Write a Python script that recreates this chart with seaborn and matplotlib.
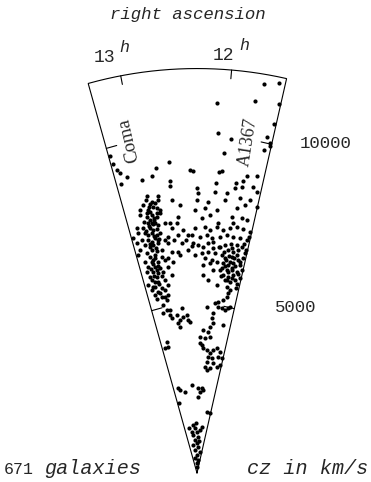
import numpy as np
import pandas as pd
import matplotlib
matplotlib.use("Agg")
import matplotlib.pyplot as plt
import seaborn as sns

far_ra = [11.692, 11.559, 12.115, 11.749, 11.517, 11.523, 12.087, 11.941, 11.565, 11.521,
          11.568, 11.510, 12.005, 13.280, 13.270, 13.248, 12.638, 12.796, 12.395, 12.359,
          12.046, 12.010, 11.705, 11.587, 13.223, 13.154, 12.985, 12.857, 12.647, 13.244,
          12.653, 12.073, 11.825, 11.744]
far_cz = [11710, 11830, 10990, 11170, 11220, 10610, 10110, 9960, 10190, 10030,
          9790, 9950, 9530, 9740, 9490, 9300, 9260, 9130, 8990, 8960,
          8960, 8990, 8940, 8990, 9190, 9030, 8850, 8910, 8700, 8870,
          8550, 8620, 8680, 8770]

coma_ra = [12.963, 12.823, 12.986, 12.823, 12.640, 13.029, 12.939, 12.902, 12.860, 12.819,
           12.976, 13.086, 13.100, 13.006, 12.942, 12.877, 12.825, 12.978, 12.918, 13.010,
           12.963, 12.916, 12.873, 12.774, 12.704, 13.188, 13.095, 13.000, 12.906, 12.687,
           13.183, 13.085, 12.989, 12.920, 12.866, 12.750, 13.273, 13.157, 13.059, 12.909,
           12.807, 13.243, 13.125, 12.999, 12.917, 12.762, 13.219, 13.039, 12.965, 12.726,
           13.265, 13.088, 13.002, 12.898, 12.794, 13.187, 13.078, 12.969, 12.852, 12.719,
           13.153, 13.040, 12.961, 12.813, 13.200, 13.087, 13.006, 12.913, 13.164, 13.048,
           12.955, 12.773, 13.148, 13.036, 12.908, 13.231, 13.116, 12.997, 12.861, 13.192,
           13.075, 12.940, 13.152, 13.028, 12.891, 12.908, 12.958, 12.918, 13.008, 12.962,
           12.953, 13.010, 13.056, 13.012, 13.064, 13.017, 13.097, 13.131, 13.048, 12.872,
           13.011, 12.946, 13.065, 12.963, 13.046, 12.965, 13.122, 13.051, 12.987, 13.116,
           13.091, 13.032, 13.154, 13.047, 12.960, 12.865, 13.067, 12.896, 12.877]
coma_cz = [8350, 8300, 8240, 8180, 8130, 8110, 8100, 8010, 7940, 7880,
           7940, 7990, 7840, 7850, 7770, 7700, 7780, 7640, 7610, 7550,
           7530, 7510, 7450, 7470, 7450, 7480, 7440, 7390, 7330, 7300,
           7330, 7300, 7240, 7160, 7210, 7060, 7220, 7110, 7060, 7010,
           6980, 7050, 6940, 6890, 6910, 6870, 6830, 6750, 6680, 6610,
           6700, 6570, 6590, 6500, 6430, 6460, 6410, 6370, 6390, 6310,
           6290, 6250, 6170, 6180, 6160, 6110, 6040, 6060, 5990, 5930,
           5940, 5920, 5880, 5790, 5800, 5770, 5670, 5580, 5640, 5600,
           5500, 5510, 5430, 5340, 5350, 8150, 7870, 7670, 7470, 7330,
           7080, 6980, 6850, 6500, 6340, 6140, 5800, 5300, 7210, 8110,
           7740, 7500, 7340, 7150, 6940, 6790, 6700, 6450, 6250, 6210,
           5980, 5720, 5670, 5450, 8020, 7800, 7610, 7030, 6700]

bridge_ra = [12.315, 12.294, 12.079, 11.927, 11.829, 11.749, 11.606, 11.552, 12.315, 12.160,
             11.940, 11.747, 11.615, 12.541, 12.339, 12.201, 12.039, 11.770, 11.668, 11.510,
             12.576, 12.244, 12.128, 11.822, 11.680, 11.607, 12.606, 12.001, 11.787, 12.597,
             12.444, 12.553, 12.618, 12.453, 12.594, 12.482, 12.391, 12.520, 12.670]
bridge_cz = [8450, 8300, 8360, 8350, 8520, 8600, 8660, 8530, 8100, 8060,
             8140, 8250, 8250, 7970, 7800, 7860, 7830, 7940, 8080, 8100,
             7620, 7560, 7660, 7670, 7670, 7650, 7430, 7440, 7490, 7080,
             7070, 6830, 6590, 6620, 6490, 6920, 6740, 7220, 6950]

a1367_ra = [12.341, 12.193, 12.117, 12.020, 11.920, 11.824, 11.731, 11.630, 11.526, 12.392,
            12.265, 12.163, 12.084, 11.958, 11.860, 11.758, 11.653, 11.548, 11.524, 12.370,
            12.290, 12.210, 12.132, 12.048, 11.943, 11.867, 11.755, 11.685, 11.603, 11.526,
            12.344, 12.233, 12.126, 12.014, 11.901, 11.840, 11.733, 11.657, 11.540, 11.530,
            12.176, 12.060, 12.201, 12.086, 11.973, 11.858, 11.769, 11.689, 11.571, 11.783,
            11.701, 11.604, 11.519, 12.019, 11.901, 12.196, 11.832, 11.737, 11.653, 11.522,
            11.788, 11.691, 11.605, 12.099, 11.932, 11.737, 11.663, 11.685, 11.705, 11.763,
            11.927, 11.809, 11.725, 11.621, 11.748, 11.652, 11.755, 11.666, 11.573, 11.819,
            11.870, 11.776, 11.651, 11.869, 11.692, 11.779, 11.581, 11.691, 11.823, 11.554,
            11.751, 11.958, 12.059, 11.576, 11.871, 11.557]
a1367_cz = [7280, 7310, 7220, 7330, 7250, 7330, 7400, 7370, 7330, 7060,
            7010, 7070, 6980, 7040, 7120, 7090, 7080, 7070, 7170, 6820,
            6760, 6720, 6820, 6680, 6750, 6820, 6750, 6870, 6850, 6780,
            6470, 6520, 6570, 6540, 6510, 6420, 6500, 6580, 6520, 6670,
            6370, 6340, 6170, 6230, 6300, 6270, 6240, 6320, 6300, 6090,
            6160, 6090, 6170, 6040, 6060, 5870, 5930, 5900, 5970, 5920,
            5790, 5760, 5840, 5740, 5610, 5600, 5520, 5410, 5310, 5190,
            5060, 6680, 6640, 6440, 6340, 6250, 6040, 5880, 6030, 6380,
            6130, 6870, 6730, 6610, 6470, 6510, 6390, 6110, 6200, 5730,
            5800, 6740, 6870, 6940, 5890, 5610]

near_ra = [12.963, 12.941, 11.862, 13.030, 12.978, 12.907, 12.648, 12.099, 11.848, 11.770,
           11.693, 11.629, 11.600, 13.066, 12.926, 12.900, 12.775, 12.715, 12.630, 12.548,
           12.518, 12.479, 12.762, 12.733, 11.942, 11.966, 11.917, 11.988, 11.672, 12.151,
           12.020, 12.231, 11.965, 12.095, 12.227, 12.178, 12.128, 13.134, 13.218, 13.128,
           12.024, 11.918, 11.833, 11.742, 11.631, 11.958, 11.848, 11.653, 11.541, 11.994,
           11.775, 11.549, 12.038, 11.862, 11.646, 11.969]
near_cz = [5320, 5210, 5120, 5090, 4920, 4900, 4910, 4940, 4970, 4940,
           4910, 4980, 5030, 4840, 4760, 4650, 4730, 4570, 4660, 4700,
           4550, 4490, 4480, 4370, 4760, 4610, 4470, 4360, 4460, 4250,
           4210, 4040, 4060, 4000, 3850, 3800, 3700, 4000, 3840, 3820,
           3660, 3570, 3680, 3750, 3660, 3470, 3430, 3510, 3480, 3310,
           3290, 3280, 3160, 3130, 3210, 3070]

local_ra = [13.100, 13.044, 12.843, 12.530, 12.255, 12.109, 12.035, 12.177, 12.249, 13.252,
            11.741, 11.533, 12.591, 12.474, 12.777, 12.337, 12.058, 12.665, 12.181, 12.531,
            12.347, 12.791, 12.132, 12.627, 11.803, 12.372, 12.805, 11.948, 12.424, 12.137,
            12.950, 11.918, 12.384, 12.084]
local_cz = [2570, 2520, 2440, 2620, 2510, 2520, 2470, 2410, 2260, 2140,
            1840, 1810, 1430, 1330, 1240, 1230, 1280, 1130, 1080, 980,
            880, 840, 780, 690, 640, 530, 440, 390, 290, 190,
            1360, 1370, 1480, 950]

# survey wedge
RA_LEFT, RA_RIGHT = 13.3, 11.5
CZ_MAX = 12000
RA_TICKS = ['13', '12']
CZ_TICKS = [5000, 10000]

RA_MID = 12.311      # RA that points straight up
DEG_PER_H = 15.78
KMS_PER_PX = 29.67   # scale of the figure


def to_xy(ra, cz):
    th = np.radians(DEG_PER_H * (RA_MID - np.asarray(ra, dtype=float)))
    cz = np.asarray(cz, dtype=float)
    return cz * np.sin(th), cz * np.cos(th)


regions = [(far_ra, far_cz), (coma_ra, coma_cz), (bridge_ra, bridge_cz),
           (a1367_ra, a1367_cz), (near_ra, near_cz), (local_ra, local_cz)]
df = pd.concat([pd.DataFrame({'ra': r, 'cz': c}) for r, c in regions], ignore_index=True)
df['x'], df['y'] = to_xy(df['ra'], df['cz'])

sns.set_style('white')
plt.rcParams['font.family'] = ['Liberation Mono', 'DejaVu Sans']

W, H = 371, 482
fig = plt.figure(figsize=(W / 100, H / 100), dpi=100)
ax = fig.add_axes([0, 0, 1, 1])

sns.scatterplot(data=df, x='x', y='y', color='black', s=9, linewidth=0, ax=ax, legend=False)

# outline of the wedge
arc = np.linspace(RA_RIGHT, RA_LEFT, 200)
ox, oy = to_xy(arc, np.full(arc.size, CZ_MAX))
ox = np.concatenate([[0], ox, [0]])
oy = np.concatenate([[0], oy, [0]])
ax.plot(ox, oy, color='black', lw=0.8, solid_joinstyle='miter')

# RA ticks on the outer arc
for h in RA_TICKS:
    tx, ty = to_xy([float(h), float(h)], [CZ_MAX, CZ_MAX - 260])
    ax.plot(tx, ty, color='black', lw=0.8)

# cz ticks on both edges, pointing inward
TL = 320
for c in CZ_TICKS:
    for ra, sgn in [(RA_LEFT, 1), (RA_RIGHT, -1)]:
        th = np.radians(DEG_PER_H * (RA_MID - ra))
        px, py = c * np.sin(th), c * np.cos(th)
        nx, ny = sgn * np.cos(th), -sgn * np.sin(th)
        ax.plot([px, px + TL * nx], [py, py + TL * ny], color='black', lw=0.8)

ax.set_xlim(-197 * KMS_PER_PX, (W - 197) * KMS_PER_PX)
ax.set_ylim(-(H - 473) * KMS_PER_PX, 473 * KMS_PER_PX)
ax.axis('off')


def label(px, py, s, **kw):
    fig.text(px / W, 1 - py / H, s, ha='center', va='center', **kw)


label(188, 14, 'right ascension', fontsize=12.5, style='italic')
label(104, 57, '13', fontsize=13)
label(124, 47, 'h', fontsize=12, style='italic')
label(223, 55, '12', fontsize=13)
label(244, 45, 'h', fontsize=12, style='italic')
label(326, 143, '10000', fontsize=12.5)
label(296, 308, '5000', fontsize=12.5)
label(129, 140, 'Coma', fontsize=13.5, rotation=103, family='Liberation Serif')
label(248, 142, 'A1367', fontsize=13, rotation=81, family='Liberation Serif')
label(19, 470, '671', fontsize=12)
label(93, 469, 'galaxies', fontsize=14.5, style='italic')
label(308, 469, 'cz in km/s', fontsize=14.5, style='italic')

fig.savefig('out.png', dpi=100)
